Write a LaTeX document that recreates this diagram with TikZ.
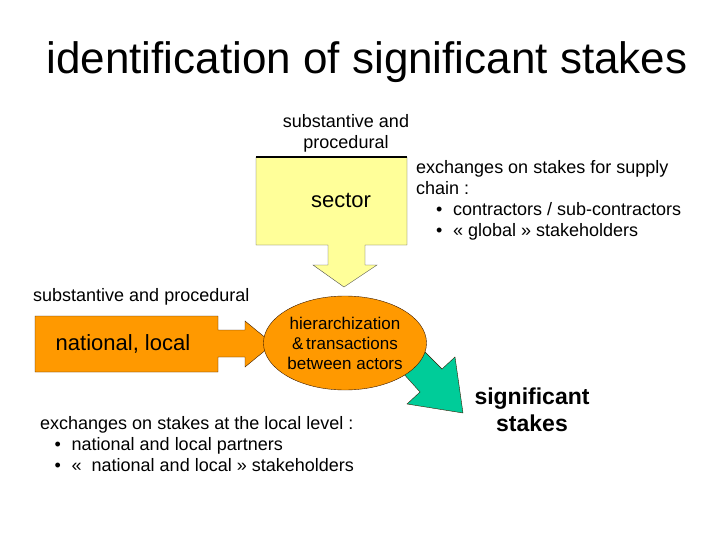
\documentclass[tikz,border=0pt]{standalone}
\usepackage{fontspec}
\setmainfont{Liberation Sans}
\usetikzlibrary{shapes.geometric}
\definecolor{yel}{HTML}{FFFF99}
\definecolor{org}{HTML}{FF9900}
\definecolor{brn}{HTML}{3A1A00}
\definecolor{grn}{HTML}{00CC99}
\tikzset{txt/.style={font=\fontsize{18}{21}\selectfont, inner sep=0pt},
 lst/.style={txt, align=left}}
\begin{document}
\begin{tikzpicture}[x=1pt,y=-1pt]
\useasboundingbox (0,0) rectangle (720,540);
\node[font=\fontsize{44}{46}\selectfont] (title) at (367,62) {identification of significant stakes};
% yellow callout
\draw[fill=yel, draw=black!70] (256,157) -- (407,157) -- (407,245) -- (365,245) -- (365,265) -- (377,265) -- (344,287) -- (313,265) -- (328,265) -- (328,245) -- (256,245) -- cycle;
\draw[line width=2pt] (256,157) -- (407,157);
\node[txt, font=\fontsize{22}{24}\selectfont] (sector) at (341,200) {sector};
\node[txt, align=center] (sp1) at (346,133) {substantive and\\procedural};
\node[lst, anchor=west] (ex1) at (416,200) {exchanges on stakes for supply\\chain :\\\hspace{1.1em}•\hspace{0.6em}contractors / sub-contractors\\\hspace{1.1em}•\hspace{0.6em}« global » stakeholders};
% orange callout
\draw[fill=org, draw=brn] (35,316) -- (218,316) -- (218,330) -- (245,330) -- (245,321) -- (273,344) -- (245,367) -- (245,357) -- (218,357) -- (218,372) -- (35,372) -- cycle;
\node[txt, font=\fontsize{22}{24}\selectfont] (nl) at (123,344) {national, local};
\node[txt, anchor=west] (sp2) at (33,297) {substantive and procedural};
% green arrow
\draw[fill=grn, draw=brn] (402,372) -- (423,350) -- (442,369) -- (455,357) -- (463,413) -- (407,404) -- (420,392) -- cycle;
% ellipse
\node[ellipse, fill=org, draw=brn, minimum width=150, minimum height=94, inner sep=0pt, align=center, txt, font=\fontsize{17}{20}\selectfont] (hier) at (345,343) {hierarchization\\\&\,transactions\\between actors};
\node[lst, anchor=west] (ex2) at (40,444) {exchanges on stakes at the local level :\\\hspace{0.8em}•\hspace{0.6em}national and local partners\\\hspace{0.8em}•\hspace{0.6em}«\ \ national and local » stakeholders};
\node[txt, align=center, font=\bfseries\fontsize{23}{27}\selectfont] (sig) at (532,410) {significant\\stakes};
\end{tikzpicture}
\end{document}
